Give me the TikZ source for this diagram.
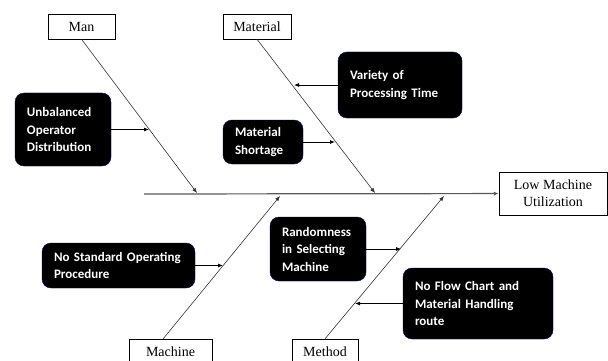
\documentclass[tikz,border=0pt]{standalone}
\usepackage{fontspec}
\setmainfont{Liberation Serif}
\newfontfamily\causefont{Carlito}
\usetikzlibrary{arrows.meta}
\tikzstyle{catbox}=[rectangle, draw, thin, fill=white, font=\fontsize{14}{16}\selectfont, minimum height=25pt, inner sep=2pt]
\tikzstyle{effectbox}=[rectangle, draw, thin, fill=white, font=\fontsize{14}{17}\selectfont, align=center, minimum width=108pt, minimum height=43pt]
\tikzstyle{cause}=[rectangle, rounded corners=9pt, fill=black, draw=blue!35!black, thin, text=white, font=\causefont\bfseries\fontsize{13}{17.5}\selectfont, align=left, inner xsep=12pt, inner ysep=3pt]
\tikzstyle{bone}=[draw=black!80, line width=0.6pt, ->]
\tikzstyle{spine}=[draw=black!65, line width=1.2pt, ->]
\tikzstyle{push}=[draw=black, thick, ->]

\begin{document}
\begin{tikzpicture}[x=1pt, y=-1pt, >={Latex[length=5pt,width=4pt]}]
		   \useasboundingbox (0,0) rectangle (608,361);
		   \begin{scope}
			   \node (man) at (81.5, 26.5) [catbox, minimum width=67pt] {Man};
			   \node (mat) at (257, 26.5) [catbox, minimum width=68pt] {Material};
			   \node (mach) at (170.5, 351.5) [catbox, minimum width=83pt] {Machine};
			   \node (meth) at (325, 351.5) [catbox, minimum width=66pt] {Method};
			   \node (eff) at (553, 193.5) [effectbox] {Low Machine\\Utilization};

			   \node (ub) at (63, 129.5) [cause, text width=72pt, minimum height=73pt] {Unbalanced\\Operator\\Distribution};
			   \node (ms) at (263, 142) [cause, text width=56pt, minimum height=44pt] {Material\\Shortage};
			   \node (vp) at (400, 85) [cause, text width=100pt, minimum height=66pt] {Variety of\\Processing Time};
			   \node (ns) at (118.5, 265.5) [cause, text width=129pt, minimum height=45pt] {No Standard Operating\\Procedure};
			   \node (rs) at (318, 249) [cause, text width=72pt, minimum height=64pt] {Randomness\\in Selecting\\Machine};
			   \node (nf) at (478, 303.5) [cause, text width=126pt, minimum height=71pt] {No Flow Chart and\\Material Handling\\route};

			   \coordinate (sp0) at (144, 194);
			   \coordinate (mant) at (197, 193);
			   \coordinate (matt) at (375, 193);
			   \coordinate (machs) at (163, 339);
			   \coordinate (macht) at (280, 196);
			   \coordinate (metht) at (444, 196);

			   \coordinate (ubt) at (149, 129.5);
			   \coordinate (mst) at (335, 142);
			   \coordinate (vpt) at (294, 85);
			   \coordinate (nst) at (223, 265.5);
			   \coordinate (rst) at (401, 249);
			   \coordinate (nft) at (355, 303.5);
		   \end{scope}
		   \begin{scope}
			   \path (sp0) edge [spine] (eff);

			   \path (man.south) edge [bone] (mant);
			   \path (mat.south) edge [bone] (matt);
			   \path (machs) edge [bone] (macht);
			   \path (meth.north) edge [bone] (metht);

			   \path (ub) edge [push] (ubt);
			   \path (ms) edge [push] (mst);
			   \path (vp) edge [push] (vpt);
			   \path (ns) edge [push] (nst);
			   \path (rs) edge [push] (rst);
			   \path (nf) edge [push] (nft);
		   \end{scope}
\end{tikzpicture}
\end{document}
